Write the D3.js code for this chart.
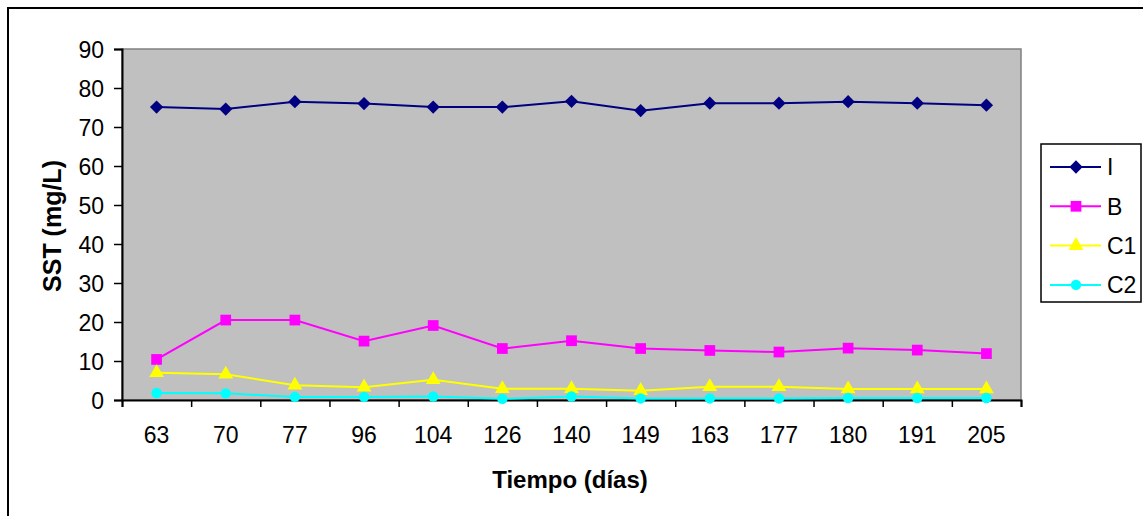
<!DOCTYPE html>
<html>
<head>
<meta charset="utf-8">
<title>SST</title>
<script src="https://cdn.jsdelivr.net/npm/d3@7"></script>
<style>
  body { margin: 0; background: #fff; }
  text { font-family: Arial, "Liberation Sans", sans-serif; fill: #000; }
</style>
</head>
<body>
<script>
// categories (dias) and series values
var dias = ["63","70","77","96","104","126","140","149","163","177","180","191","205"];
var serieI  = [75.1, 74.6, 76.5, 76.0, 75.1, 75.1, 76.6, 74.2, 76.1, 76.1, 76.5, 76.1, 75.6];
var serieB  = [10.4, 20.5, 20.5, 15.1, 19.1, 13.2, 15.2, 13.2, 12.7, 12.3, 13.3, 12.8, 11.9];
var serieC1 = [7.0, 6.6, 3.8, 3.3, 5.2, 2.9, 2.9, 2.4, 3.4, 3.4, 2.8, 2.8, 2.8];
var serieC2 = [1.8, 1.7, 0.8, 0.8, 0.9, 0.3, 0.9, 0.4, 0.4, 0.4, 0.5, 0.5, 0.5];
var yTicks = [0,10,20,30,40,50,60,70,80,90];

var series = [
  {name:"I",  vals:serieI,  color:"#000080", sym:d3.symbolSquare,   size:88, rot:45},
  {name:"B",  vals:serieB,  color:"#FF00FF", sym:d3.symbolSquare,   size:115, rot:0},
  {name:"C1", vals:serieC1, color:"#FFFF00", sym:d3.symbolTriangle, size:95, rot:0},
  {name:"C2", vals:serieC2, color:"#00FFFF", sym:d3.symbolCircle,   size:85, rot:0}
];

var W = 1143, H = 516;
var pLeft = 122, pRight = 1021, pTop = 49, pBottom = 400;

var svg = d3.select("body").append("svg").attr("width", W).attr("height", H);

// outer chart border
svg.append("rect").attr("x", 8).attr("y", 8).attr("width", W + 10).attr("height", H + 10)
  .attr("fill", "#fff").attr("stroke", "#000").attr("stroke-width", 2);

var x = d3.scaleBand().domain(dias).range([pLeft, pRight]).padding(0);
var xi = d3.scaleLinear().domain([0, dias.length]).range([pLeft, pRight]);
var y = d3.scaleLinear().domain([0, 90]).range([pBottom, pTop]);

// plot area
svg.append("rect").attr("x", pLeft).attr("y", pTop)
  .attr("width", pRight - pLeft).attr("height", pBottom - pTop)
  .attr("fill", "#C0C0C0").attr("stroke", "#808080").attr("stroke-width", 1.5);

// y axis
var gy = svg.append("g").attr("transform", "translate(" + pLeft + ",0)")
  .call(d3.axisLeft(y).tickValues(yTicks).tickSize(8).tickPadding(10));
gy.select(".domain").attr("stroke", "#000").attr("stroke-width", 2);
gy.selectAll(".tick line").attr("stroke", "#000").attr("stroke-width", 1.5);
gy.selectAll(".tick text").style("font-size", "23px").attr("dy", "0.36em");

// x axis: ticks on category boundaries, labels in band centers
var gx = svg.append("g").attr("transform", "translate(0," + pBottom + ")")
  .call(d3.axisBottom(xi).tickValues(d3.range(dias.length + 1)).tickFormat("").tickSize(7));
gx.select(".domain").attr("stroke", "#000").attr("stroke-width", 2);
gx.selectAll(".tick line").attr("stroke", "#000").attr("stroke-width", 1.5);

var gxl = svg.append("g").attr("transform", "translate(0," + pBottom + ")")
  .call(d3.axisBottom(x).tickSize(0).tickPadding(27));
gxl.select(".domain").remove();
gxl.selectAll(".tick text").style("font-size", "23px");

// axis titles
svg.append("text").attr("x", 570).attr("y", 488).attr("text-anchor", "middle")
  .style("font-size", "24px").style("font-weight", "bold").text("Tiempo (días)");
svg.append("text").attr("transform", "translate(61,226) rotate(-90)").attr("text-anchor", "middle")
  .style("font-size", "25px").style("font-weight", "bold").text("SST (mg/L)");

var cx = function(d, i) { return x(dias[i]) + x.bandwidth() / 2; };

series.forEach(function(s) {
  var line = d3.line().x(function(d, i) { return cx(d, i); }).y(function(d) { return y(d); });
  svg.append("path").datum(s.vals).attr("d", line)
    .attr("fill", "none").attr("stroke", s.color).attr("stroke-width", 2);
  svg.selectAll(".m-" + s.name).data(s.vals).enter().append("path")
    .attr("class", "m-" + s.name)
    .attr("transform", function(d, i) { return "translate(" + cx(d, i) + "," + y(d) + ") rotate(" + s.rot + ")"; })
    .attr("d", d3.symbol().type(s.sym).size(s.size))
    .attr("fill", s.color);
});

// legend
var lg = svg.append("g");
lg.append("rect").attr("x", 1041).attr("y", 144).attr("width", 100).attr("height", 158)
  .attr("fill", "#fff").attr("stroke", "#000").attr("stroke-width", 1.5);
series.forEach(function(s, i) {
  var ly = 167 + i * 39.3;
  lg.append("line").attr("x1", 1050).attr("x2", 1101).attr("y1", ly).attr("y2", ly)
    .attr("stroke", s.color).attr("stroke-width", 2);
  lg.append("path").attr("transform", "translate(1076," + ly + ") rotate(" + s.rot + ")")
    .attr("d", d3.symbol().type(s.sym).size(s.size)).attr("fill", s.color);
  lg.append("text").attr("x", 1107).attr("y", ly).attr("dy", "0.36em")
    .style("font-size", "23px").text(s.name);
});
</script>
</body>
</html>
